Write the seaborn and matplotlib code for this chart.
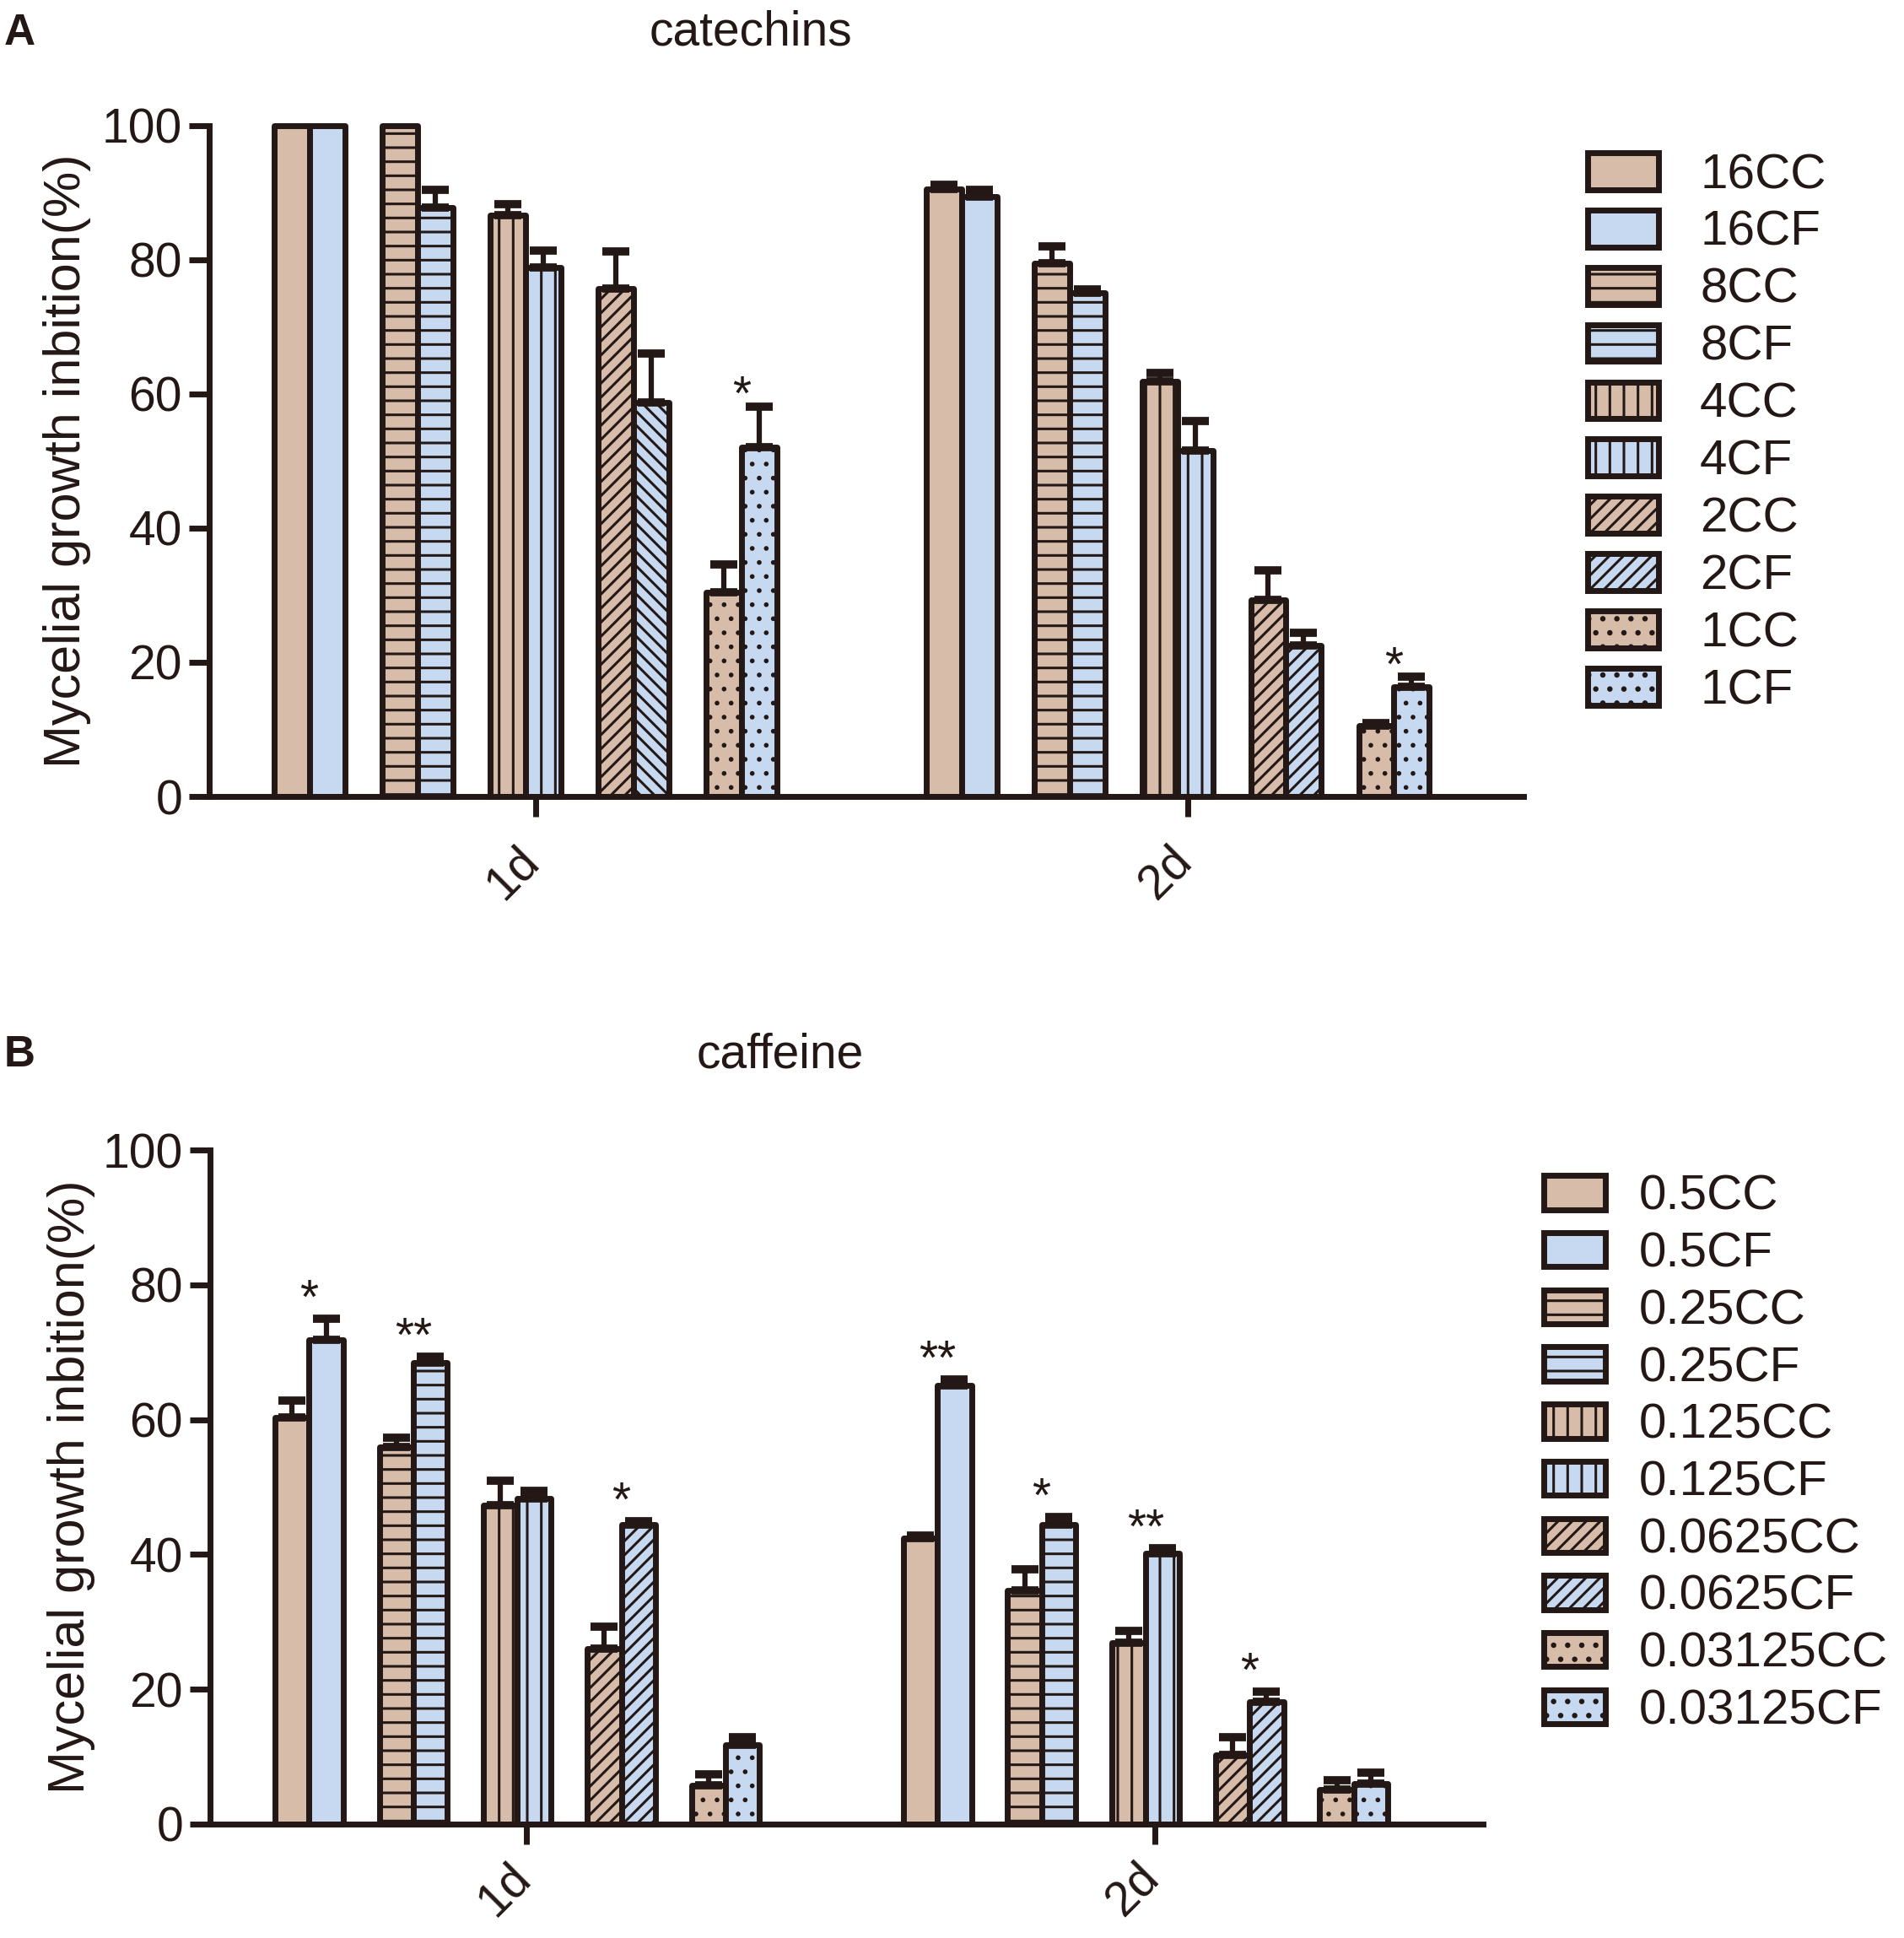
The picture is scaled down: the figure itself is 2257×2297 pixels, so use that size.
import numpy as np
import pandas as pd
import matplotlib
matplotlib.use("Agg")
import matplotlib.pyplot as plt
import matplotlib.transforms as mtransforms
from matplotlib.patches import Patch
import seaborn as sns

# ---- data ----
days = ["1d", "2d"]

groups_A = ["16CC", "16CF", "8CC", "8CF", "4CC", "4CF", "2CC", "2CF", "1CC", "1CF"]
values_A_1d = [100, 100, 100, 87.8, 86.6, 78.8, 75.7, 58.7, 30.4, 52.0]
err_A_1d = [0, 0, 0, 2.6, 1.7, 2.5, 5.5, 7.3, 4.2, 6.1]
values_A_2d = [90.5, 89.4, 79.4, 75.0, 61.8, 51.6, 29.3, 22.5, 10.6, 16.3]
err_A_2d = [0.6, 1.0, 2.6, 0.6, 1.3, 4.4, 4.4, 1.9, 0.3, 1.5]
stars_A_1d = ["", "", "", "", "*"]
stars_A_2d = ["", "", "", "", "*"]

groups_B = ["0.5CC", "0.5CF", "0.25CC", "0.25CF", "0.125CC", "0.125CF",
            "0.0625CC", "0.0625CF", "0.03125CC", "0.03125CF"]
values_B_1d = [60.3, 71.9, 56.0, 68.4, 47.3, 48.3, 26.0, 44.4, 5.8, 11.7]
err_B_1d = [2.5, 3.1, 1.3, 0.9, 3.6, 1.1, 3.3, 0.5, 1.6, 1.2]
values_B_2d = [42.4, 65.1, 34.7, 44.4, 26.9, 40.2, 10.2, 18.1, 5.1, 6.0]
err_B_2d = [0.4, 0.9, 3.1, 1.1, 1.7, 0.7, 2.7, 1.5, 1.4, 1.6]
stars_B_1d = ["*", "**", "", "*", ""]
stars_B_2d = ["**", "*", "**", "*", ""]

# fill pattern for each concentration level (same for CC and CF)
hatches = ["", "", "-", "-", "|", "|", "//", "//", ".", "."]

# ---- style ----
CC_COLOR = "#D7BCA9"
CF_COLOR = "#C6D9F0"
EDGE = "#231815"
FS = 41
LEG_FS = 42

sns.set_style("ticks")
plt.rcParams["font.family"] = ["Liberation Sans", "DejaVu Sans"]
plt.rcParams["hatch.linewidth"] = 2.2
plt.rcParams["hatch.color"] = EDGE

STEP = 0.1656   # distance between concentration pairs
INNER = 0.054   # distance between CC and CF bars of a pair
SHIFT = -0.015  # bars sit slightly left of the day tick in the original


def thin_dots(patch, h):
    # the dotted fill uses smaller dots in the original
    if h == "." and hasattr(patch, "set_hatch_linewidth"):
        patch.set_hatch_linewidth(1.6)


def build_frame(groups, vals, errs):
    rows = []
    for d, day in enumerate(days):
        for g, name in enumerate(groups):
            pair = d + SHIFT + (g // 2 - 2) * STEP
            rows.append({"day": day, "group": name, "value": vals[d][g],
                         "err": errs[d][g], "pair": pair,
                         "pos": pair + (g % 2 - 0.5) * INNER})
    return pd.DataFrame(rows)


def draw_panel(ax, df, groups, stars, xlim, xpad, star_gap, odd_hatch=None):
    palette = {g: (CC_COLOR if g.endswith("CC") else CF_COLOR) for g in groups}
    sns.barplot(data=df, x="pos", y="value", hue="group", hue_order=groups,
                palette=palette, saturation=1, native_scale=True, dodge=False,
                width=1.0, errorbar=None, edgecolor=EDGE, linewidth=5,
                legend=False, ax=ax, zorder=2)
    for cont, h in zip(ax.containers, hatches):
        for bar in cont:
            bar.set_hatch(h)
            thin_dots(bar, h)
            bar.set_joinstyle("round")
            bar.set_clip_on(False)
    if odd_hatch is not None:
        gi, di, h = odd_hatch
        ax.containers[gi][di].set_hatch(h)

    e = df[df["err"] > 0]
    ax.errorbar(e["pos"], e["value"], yerr=[np.zeros(len(e)), e["err"]],
                fmt="none", ecolor=EDGE, elinewidth=4.5, capsize=11.5,
                capthick=7, zorder=3, clip_on=False)

    for d, day in enumerate(days):
        sub = df[df["day"] == day]
        for k, s in enumerate(stars[d]):
            if not s:
                continue
            pair = sub.iloc[2 * k:2 * k + 2]
            top = (pair["value"] + pair["err"]).max()
            ax.text(pair["pair"].iloc[0], top + star_gap, s, ha="center",
                    va="baseline", fontsize=FS, color=EDGE)

    ax.set_xlim(*xlim)
    ax.set_ylim(0, 100)
    ax.set_yticks([0, 20, 40, 60, 80, 100])
    ax.set_xticks([0, 1])
    ax.set_xticklabels(days, rotation=45, ha="right")
    ax.set_xlabel("")
    ax.set_ylabel("Mycelial growth inbition(%)", fontsize=44, color=EDGE)
    ax.yaxis.set_label_coords(-0.09, 0.5)
    sns.despine(ax=ax)
    for side in ["left", "bottom"]:
        ax.spines[side].set_linewidth(5)
        ax.spines[side].set_color(EDGE)
    ax.tick_params(length=17, width=5, color=EDGE, labelsize=FS,
                   labelcolor=EDGE)
    ax.tick_params(axis="y", pad=6)
    ax.tick_params(axis="x", pad=xpad)
    # nudge the rotated day labels right, after tick_params has set transforms
    shift = mtransforms.ScaledTranslation(0.15, 0, ax.figure.dpi_scale_trans)
    for lab in ax.get_xticklabels():
        lab.set_transform(lab.get_transform() + shift)

    handles = []
    for g, h in zip(groups, hatches):
        p = Patch(facecolor=palette[g], edgecolor=EDGE, hatch=h,
                  linewidth=5, joinstyle="round")
        thin_dots(p, h)
        handles.append(p)
    return handles


fig = plt.figure(figsize=(22.57, 22.97), dpi=100)

axA = fig.add_axes([0.1099, 0.5890, 0.6903, 0.3463])
dfA = build_frame(groups_A, [values_A_1d, values_A_2d], [err_A_1d, err_A_2d])
hA = draw_panel(axA, dfA, groups_A, [stars_A_1d, stars_A_2d],
                (-0.485 + SHIFT, 1.530 + SHIFT), xpad=18, star_gap=-0.5,
                odd_hatch=(7, 0, "\\\\"))
axA.legend(hA, groups_A, loc="upper left", bbox_to_anchor=(0.8339, 0.9213),
           bbox_transform=fig.transFigure, frameon=False, fontsize=LEG_FS,
           handlelength=1.44, handleheight=0.78, handletextpad=0.84,
           labelspacing=0.235, borderpad=0, borderaxespad=0,
           labelcolor=EDGE)

axB = fig.add_axes([0.1103, 0.0588, 0.6686, 0.3478])
dfB = build_frame(groups_B, [values_B_1d, values_B_2d], [err_B_1d, err_B_2d])
hB = draw_panel(axB, dfB, groups_B, [stars_B_1d, stars_B_2d],
                (-0.489 + SHIFT, 1.537 + SHIFT), xpad=9, star_gap=0.8)
axB.legend(hB, groups_B, loc="upper left", bbox_to_anchor=(0.8108, 0.3940),
           bbox_transform=fig.transFigure, frameon=False, fontsize=LEG_FS,
           handlelength=1.25, handleheight=0.69, handletextpad=0.68,
           labelspacing=0.235, borderpad=0, borderaxespad=0,
           labelcolor=EDGE)

fig.text(890 / 2257, 1 - 54 / 2297, "catechins", ha="center", va="baseline",
         fontsize=FS, color=EDGE)
fig.text(925 / 2257, 1 - 1266 / 2297, "caffeine", ha="center", va="baseline",
         fontsize=FS, color=EDGE)
fig.text(0.002, 1 - 53 / 2297, "A", ha="left", va="baseline", fontsize=37,
         fontweight="bold", color=EDGE)
fig.text(0.002, 1 - 1264 / 2297, "B", ha="left", va="baseline", fontsize=37,
         fontweight="bold", color=EDGE)

fig.savefig("out.png", dpi=100)
